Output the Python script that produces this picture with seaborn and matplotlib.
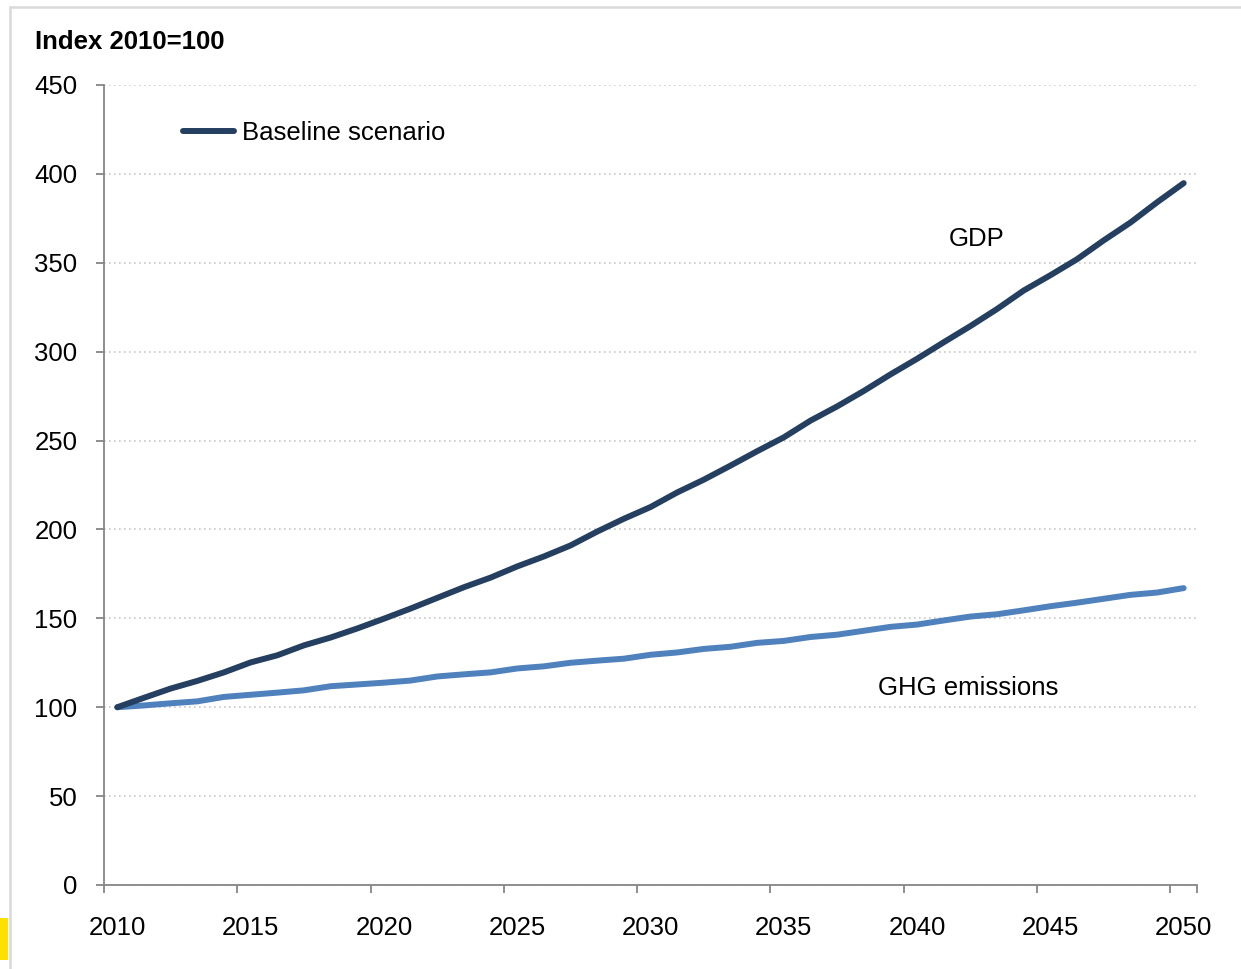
import matplotlib
matplotlib.use("Agg")
import matplotlib.pyplot as plt
from matplotlib.lines import Line2D
from matplotlib.patches import Rectangle
import seaborn as sns
import pandas as pd
import numpy as np

years = list(range(2010, 2051))
gdp = [100.0, 105.3, 110.5, 114.8, 119.6, 125.2, 129.2, 134.8, 139.2, 144.3,
       149.8, 155.5, 161.5, 167.5, 172.9, 179.2, 184.8, 191.0, 198.8, 206.0,
       212.6, 220.8, 228.0, 235.9, 244.0, 251.8, 261.2, 269.2, 277.9, 287.2,
       296.0, 305.3, 314.4, 324.0, 334.4, 343.0, 352.0, 362.6, 372.6, 384.0,
       394.8]
ghg = [100.0, 101.0, 102.2, 103.3, 105.8, 107.0, 108.2, 109.5, 111.8, 112.8,
       113.8, 115.0, 117.3, 118.5, 119.6, 121.8, 123.0, 125.0, 126.2, 127.3,
       129.5, 130.8, 132.8, 134.0, 136.2, 137.3, 139.5, 140.8, 143.0, 145.2,
       146.5, 148.8, 151.0, 152.3, 154.5, 156.8, 158.8, 161.0, 163.2, 164.5,
       167.0]
y_ticks = [0, 50, 100, 150, 200, 250, 300, 350, 400, 450]
x_labels = [2010, 2015, 2020, 2025, 2030, 2035, 2040, 2045, 2050]

sns.set_theme(style="white")
plt.rcParams['font.family'] = ['Liberation Sans', 'DejaVu Sans']
plt.rcParams['text.color'] = 'black'

FS = 18.5
LW = 4.3

W, H = 1241, 969
fig = plt.figure(figsize=(W / 100, H / 100), dpi=100)
ax = fig.add_axes([104 / W, 1 - 885 / H, (1197 - 104) / W, 800 / H])

df = pd.DataFrame({"year": years, "gdp": gdp, "ghg": ghg})
navy = "#243F60"
blue = "#4F81BD"
sns.lineplot(data=df, x="year", y="ghg", ax=ax, color=blue, linewidth=LW,
             solid_capstyle="round", label="_nolegend_")
sns.lineplot(data=df, x="year", y="gdp", ax=ax, color=navy, linewidth=LW,
             solid_capstyle="round", label="_nolegend_")

ax.set_xlim(2009.5, 2050.5)
ax.set_ylim(0, 450)
ax.set_xlabel("")
ax.set_ylabel("")

ax.set_yticks(y_ticks)
ax.set_yticklabels([str(v) for v in y_ticks])
ax.yaxis.grid(True, linestyle=(0, (1, 2)), color="#C8C8C8", linewidth=1.2)
ax.xaxis.grid(False)
ax.set_axisbelow(True)

major_x = [y - 0.5 for y in x_labels] + [2050.5]
ax.set_xticks(major_x)
ax.set_xticklabels([""] * len(major_x))
ax.set_xticks(x_labels, minor=True)
ax.set_xticklabels([str(v) for v in x_labels], minor=True)

ax.tick_params(axis="x", which="major", direction="out", length=6, width=1.3,
               color="#868686", bottom=True)
ax.tick_params(axis="x", which="minor", length=0, pad=22, labelsize=FS,
               labelcolor="black", bottom=True)
ax.tick_params(axis="y", which="major", direction="out", length=6, width=1.3,
               color="#868686", left=True, pad=13, labelsize=FS,
               labelcolor="black")

for s in ["top", "right"]:
    ax.spines[s].set_visible(False)
for s in ["left", "bottom"]:
    ax.spines[s].set_color("#868686")
    ax.spines[s].set_linewidth(1.3)

handle = Line2D([], [], color=navy, linewidth=LW, solid_capstyle="round")
ax.legend([handle], ["Baseline scenario"], loc="center left",
          bbox_to_anchor=(0.072, 0.940), frameon=False, fontsize=FS,
          handlelength=2.0, handletextpad=0.3, borderpad=0, borderaxespad=0,
          labelcolor="black")

ax.text(2042.25, 363.5, "GDP", fontsize=FS, ha="center", va="center",
        color="black")
ax.text(2041.9, 110.8, "GHG emissions", fontsize=FS, ha="center",
        va="center", color="black")

fig.text(35 / W, 1 - 42 / H, "Index 2010=100", fontsize=FS,
         fontweight="bold", ha="left", va="center", color="black")

# frame and marker decorations
fig.add_artist(Line2D([10 / W, 10 / W], [0, 1 - 7 / H],
                      transform=fig.transFigure, color="#D9D9D9", linewidth=1.8))
fig.add_artist(Line2D([10 / W, 1], [1 - 7 / H, 1 - 7 / H],
                      transform=fig.transFigure, color="#D9D9D9", linewidth=1.8))
fig.add_artist(Rectangle((0, 1 - 960 / H), 8 / W, 42 / H,
                         transform=fig.transFigure, color="#FFE000",
                         linewidth=0))

fig.savefig("out.png", dpi=100)
